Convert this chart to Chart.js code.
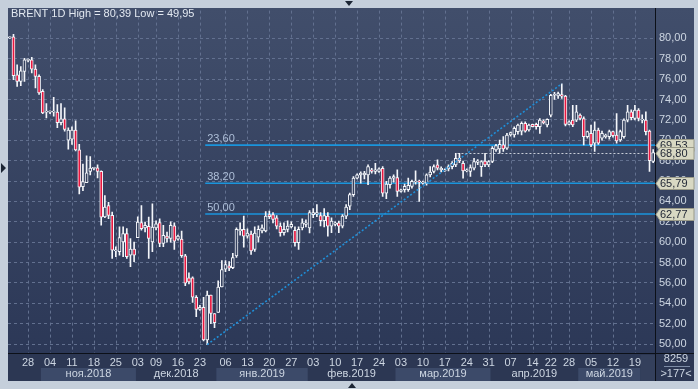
<!DOCTYPE html>
<html>
<head>
<meta charset="utf-8">
<script src="https://cdn.jsdelivr.net/npm/chart.js@4.4.0/dist/chart.umd.min.js"></script>
<style>
  html, body { margin: 0; padding: 0; background: #c5cfdb; }
  canvas { display: block; }
</style>
</head>
<body>
<canvas id="chart" width="698" height="389"></canvas>
<script>
// daily candles, BRENT 1D (177 bars)
const openP = [
  80.05, 80.16, 76.43, 75.78, 76.75, 77.85, 77.89, 76.98, 76.27, 74.81,
  72.76, 72.76, 72.76, 72.76, 71.72, 72.11, 70.0, 70.1, 71.0, 69.06,
  65.45, 65.85, 66.95, 67.25, 67.3, 66.95, 62.47, 63.6, 62.63, 59.15,
  59.06, 60.03, 60.84, 58.73, 59.32, 60.45, 61.92, 61.4, 61.56, 60.03,
  61.4, 61.92, 59.87, 60.6, 60.36, 61.6, 60.3, 60.3, 58.67, 56.5,
  56.5, 54.6, 53.4, 53.6, 50.4, 54.8, 53.0, 53.1, 55.6, 57.36,
  57.69, 57.5, 58.66, 61.1, 61.26, 60.6, 60.8, 59.3, 60.5, 61.1,
  61.1, 62.72, 62.72, 62.4, 61.58, 60.93, 61.26, 61.5, 61.16, 59.96,
  61.4, 61.75, 61.4, 62.7, 62.75, 62.6, 62.1, 62.55, 61.58, 61.74,
  61.9, 61.58, 62.55, 63.53, 64.66, 66.29, 66.61, 66.61, 66.61, 67.1,
  66.94, 66.94, 67.26, 64.82, 65.64, 66.29, 66.35, 64.99, 65.15, 65.15,
  65.47, 65.9, 65.96, 65.8, 65.8, 66.61, 66.94, 67.58, 67.1, 67.0,
  67.19, 67.42, 67.58, 68.23, 67.75, 67.0, 66.94, 67.26, 67.84, 67.42,
  67.97, 67.58, 67.92, 69.06, 69.16, 69.55, 69.22, 70.52, 70.52, 70.85,
  70.9, 71.66, 71.01, 71.56, 71.56, 71.33, 71.88, 71.5, 72.47, 74.42,
  74.35, 74.48, 74.35, 71.56, 71.98, 71.98, 72.47, 72.14, 70.36, 70.68,
  69.71, 71.01, 70.2, 70.36, 70.36, 70.85, 70.52, 70.03, 70.36, 71.98,
  72.79, 72.14, 72.96, 71.98, 71.98, 70.91, 67.92
];
const highP = [
  80.15, 80.39, 77.4, 77.24, 78.05, 78.0, 78.15, 77.4, 76.43, 74.97,
  73.6, 72.9, 74.22, 73.5, 73.6, 73.18, 71.23, 71.33, 71.9, 69.6,
  67.66, 68.47, 68.4, 67.35, 67.6, 67.0, 64.58, 63.9, 62.95, 59.55,
  61.5, 61.5, 61.33, 60.36, 60.0, 62.5, 63.6, 61.98, 62.47, 63.77,
  62.1, 62.3, 61.66, 61.0, 62.0, 61.9, 60.7, 61.1, 58.8, 57.0,
  56.6, 54.77, 53.8, 54.6, 55.2, 54.8, 53.0, 56.2, 58.2, 58.2,
  58.1, 58.9, 61.4, 61.9, 62.56, 61.3, 61.1, 61.5, 61.6, 61.7,
  63.0, 63.05, 62.9, 62.6, 61.9, 61.9, 62.1, 62.0, 61.5, 61.5,
  62.3, 62.2, 63.1, 63.3, 63.7, 62.9, 63.3, 62.9, 62.39, 62.0,
  62.07, 62.7, 63.69, 64.82, 66.45, 66.7, 66.9, 66.95, 67.58, 67.26,
  67.75, 67.3, 67.42, 65.96, 66.45, 66.6, 67.1, 65.2, 65.7, 66.29,
  66.1, 67.0, 66.1, 66.0, 66.7, 67.42, 67.6, 68.07, 67.4, 67.2,
  67.6, 67.9, 68.72, 68.72, 67.97, 67.2, 67.58, 68.23, 68.1, 68.0,
  68.72, 68.0, 69.38, 69.6, 70.03, 70.36, 70.68, 70.8, 71.33, 71.6,
  71.82, 71.8, 71.6, 71.6, 71.7, 72.14, 72.0, 72.1, 74.5, 74.7,
  74.74, 75.55, 74.4, 71.9, 73.44, 73.44, 72.6, 72.3, 70.9, 71.5,
  71.82, 71.2, 70.9, 70.6, 71.0, 70.9, 72.63, 71.0, 72.1, 73.44,
  73.0, 73.44, 73.1, 72.5, 72.79, 71.0, 69.1
];
const lowP = [
  80.0, 75.94, 75.29, 75.36, 75.78, 77.7, 76.6, 75.13, 74.5, 72.6,
  72.2, 72.6, 72.37, 71.23, 71.5, 70.9, 69.12, 69.6, 68.96, 64.74,
  65.06, 65.85, 66.6, 67.1, 66.3, 61.66, 62.4, 62.3, 58.41, 58.57,
  58.73, 58.57, 58.41, 57.6, 58.08, 60.45, 61.17, 61.0, 58.41, 59.06,
  61.2, 59.55, 59.55, 60.0, 60.0, 59.3, 60.2, 58.5, 55.74, 55.9,
  54.1, 52.7, 53.3, 50.3, 49.95, 52.0, 51.6, 53.1, 55.6, 57.1,
  57.2, 57.4, 58.5, 60.7, 59.5, 60.4, 58.8, 59.1, 60.0, 60.9,
  61.0, 62.3, 61.9, 61.3, 60.6, 60.7, 61.0, 61.4, 59.6, 59.3,
  61.2, 61.5, 60.9, 62.4, 62.5, 61.6, 61.5, 60.6, 60.93, 61.6,
  60.93, 61.4, 62.3, 63.2, 64.5, 66.2, 65.8, 66.2, 65.64, 66.77,
  66.7, 66.85, 64.5, 64.27, 65.31, 65.9, 64.5, 64.9, 64.9, 64.99,
  65.3, 65.7, 64.01, 65.7, 65.6, 66.4, 66.8, 67.1, 66.9, 66.95,
  67.0, 67.2, 67.4, 67.8, 66.29, 66.9, 66.45, 67.1, 67.6, 66.45,
  67.4, 67.4, 67.8, 68.9, 68.73, 68.9, 69.1, 70.4, 70.3, 70.6,
  70.52, 70.8, 70.9, 71.3, 71.1, 70.68, 71.6, 71.3, 72.3, 74.0,
  74.1, 74.1, 71.4, 71.5, 71.33, 71.82, 72.0, 69.55, 70.2, 69.38,
  68.9, 69.6, 70.0, 70.2, 70.1, 70.3, 69.71, 69.9, 70.2, 71.8,
  72.0, 72.0, 71.9, 71.7, 70.52, 66.95, 67.8
];
const closeP = [
  80.1, 76.33, 75.78, 76.82, 77.89, 77.9, 76.98, 76.27, 74.64, 72.69,
  72.8, 72.8, 72.85, 71.72, 72.11, 71.07, 71.0, 71.0, 69.06, 65.4,
  65.95, 66.8, 67.27, 67.3, 66.95, 62.45, 63.44, 62.63, 59.22, 59.2,
  60.45, 60.84, 58.57, 59.32, 58.73, 61.98, 61.33, 61.66, 60.36, 61.49,
  61.8, 59.87, 60.68, 60.36, 61.66, 60.1, 60.6, 58.67, 55.97, 56.1,
  54.6, 53.4, 53.6, 50.4, 54.8, 53.0, 52.1, 55.6, 57.3, 57.79,
  57.46, 58.5, 61.26, 61.26, 60.6, 60.9, 59.15, 60.9, 61.26, 61.4,
  62.56, 62.5, 62.23, 61.58, 60.93, 61.26, 61.58, 61.75, 59.96, 61.26,
  61.9, 61.9, 62.9, 62.9, 62.9, 62.1, 62.6, 61.58, 62.07, 61.9,
  61.58, 62.55, 63.45, 64.66, 66.29, 66.61, 66.77, 66.77, 67.42, 66.94,
  67.1, 67.19, 64.82, 65.7, 66.29, 66.45, 64.99, 65.15, 65.47, 65.57,
  65.96, 65.96, 65.9, 65.9, 66.61, 66.87, 67.42, 67.26, 67.26, 67.1,
  67.42, 67.75, 68.23, 67.97, 67.0, 67.1, 67.32, 67.91, 67.97, 67.91,
  67.58, 67.91, 69.22, 69.48, 69.61, 69.16, 70.52, 70.75, 71.17, 71.5,
  71.66, 70.9, 71.5, 71.33, 71.33, 71.98, 71.72, 72.05, 74.42, 74.48,
  74.58, 74.32, 71.56, 71.82, 71.5, 72.79, 72.14, 70.36, 70.85, 69.55,
  71.01, 69.71, 70.68, 70.52, 70.85, 70.46, 69.94, 70.85, 71.98, 72.79,
  72.21, 72.96, 72.14, 72.05, 70.85, 67.99, 68.8
];

// week labels on the time axis (bar index -> text)
const tickIdx = [5, 11, 17, 23, 29, 35, 40, 46, 52, 59, 65, 71, 77, 83, 89, 95, 101, 107, 113, 119, 125, 131, 137, 143, 148, 153, 159, 165, 171];
const tickText = ['28', '04', '11', '18', '25', '03', '09', '16', '23', '06', '13', '20', '27', '03', '10', '17', '24', '03', '10', '17', '24', '31', '07', '14', '22', '28', '05', '12', '19'];
const months = ['ноя.2018', 'дек.2018', 'янв.2019', 'фев.2019', 'мар.2019', 'апр.2019', 'май.2019'];
const monthFirst = [9, 35, 57, 82, 106, 132, 156];
const monthEnd = 172;

const priceTicks = [50, 52, 54, 56, 58, 60, 62, 64, 66, 68, 70, 72, 74, 76, 78, 80];

// fibonacci levels drawn from the low (bar 54) to the high (bar 151)
const fibNames = ['23,60', '38,20', '50,00'];
const fibLevels = [69.53, 65.79, 62.77];
const trendFrom = [54, 49.95];
const trendTo = [151, 75.55];
const lastPrice = 68.80;
const lastLineFrom = 123;
const axisTags = [69.53, 68.80, 65.79, 62.77];

const title = 'BRENT 1D High = 80,39 Low = 49,95';
const barCount = '8259';
const barShown = '>177<';

const FONT = 'Liberation Sans';
const txt = '#cdd6e2';
const gridColor = '#62708f';
const upFill = '#35415f';
const downFill = '#e8173f';
const candleLine = '#f4f6fa';

const labels = openP.map((_, i) => String(i));
const bodies = openP.map((o, i) => [Math.min(o, closeP[i]), Math.max(o, closeP[i])]);
const wicks = lowP.map((l, i) => [l, highP[i]]);
const bodyColors = openP.map((o, i) => closeP[i] >= o ? upFill : downFill);
const trend = labels.map((_, i) => i === trendFrom[0] ? trendFrom[1] : (i === trendTo[0] ? trendTo[1] : null));

const fmt = v => v.toFixed(2).replace('.', ',');

const decor = {
  id: 'decor',
  beforeDraw(chart) {
    const ctx = chart.ctx;
    const a = chart.chartArea;
    const xs = chart.scales.x;
    ctx.save();
    ctx.fillStyle = '#c5cfdb';
    ctx.fillRect(0, 0, chart.width, chart.height);
    const g = ctx.createLinearGradient(0, 8, 0, a.bottom);
    g.addColorStop(0, '#414e6b');
    g.addColorStop(1, '#2c3857');
    ctx.fillStyle = g;
    ctx.fillRect(8, 8, 686, a.bottom - 8);
    ctx.fillStyle = '#2c3753';
    ctx.fillRect(8, a.bottom, 686, 28);
    // month bands
    const half = (xs.getPixelForValue(1) - xs.getPixelForValue(0)) / 2;
    ctx.font = '11px "' + FONT + '"';
    ctx.textAlign = 'center';
    ctx.textBaseline = 'middle';
    months.forEach((m, k) => {
      const x0 = xs.getPixelForValue(monthFirst[k]) - half;
      const last = k + 1 < monthFirst.length ? monthFirst[k + 1] - 1 : monthEnd;
      const x1 = xs.getPixelForValue(last) + half;
      if (k % 2 === 0) {
        ctx.fillStyle = '#3c4a69';
        ctx.fillRect(x0, a.bottom + 15, x1 - x0, 13);
      }
      ctx.fillStyle = txt;
      ctx.fillText(m, (x0 + x1) / 2, a.bottom + 21);
    });
    ctx.fillStyle = '#34405c';
    ctx.fillRect(xs.getPixelForValue(monthEnd) + half, a.bottom + 2, a.right - xs.getPixelForValue(monthEnd) - half, 26);
    ctx.restore();
  },
  beforeDatasetsDraw(chart) {
    const ctx = chart.ctx;
    const a = chart.chartArea;
    const xs = chart.scales.x, ys = chart.scales.y;
    ctx.save();
    // weekly grid lines
    ctx.strokeStyle = gridColor;
    ctx.lineWidth = 1;
    ctx.setLineDash([3, 3]);
    ctx.beginPath();
    tickIdx.forEach(i => {
      const x = Math.round(xs.getPixelForValue(i)) + 0.5;
      ctx.moveTo(x, a.top);
      ctx.lineTo(x, a.bottom);
    });
    ctx.stroke();
    ctx.setLineDash([]);
    const x0 = xs.getPixelForValue(trendFrom[0]) - 2;
    ctx.font = '11px "' + FONT + '"';
    ctx.textBaseline = 'alphabetic';
    ctx.textAlign = 'left';
    fibLevels.forEach((v, k) => {
      const y = ys.getPixelForValue(v);
      ctx.strokeStyle = '#1a95dc';
      ctx.lineWidth = 1.6;
      ctx.beginPath();
      ctx.moveTo(x0, y);
      ctx.lineTo(a.right, y);
      ctx.stroke();
      ctx.fillStyle = '#aebfd8';
      ctx.fillText(fibNames[k], x0 + 2, y - 3);
    });
    const yl = Math.round(ys.getPixelForValue(lastPrice)) + 0.5;
    ctx.strokeStyle = '#c9ced8';
    ctx.lineWidth = 1;
    ctx.setLineDash([2, 2]);
    ctx.beginPath();
    ctx.moveTo(xs.getPixelForValue(lastLineFrom) - 2, yl);
    ctx.lineTo(a.right, yl);
    ctx.stroke();
    ctx.restore();
  },
  afterDraw(chart) {
    const ctx = chart.ctx;
    const a = chart.chartArea;
    const ys = chart.scales.y;
    ctx.save();
    // panel separators
    ctx.strokeStyle = '#0c1018';
    ctx.lineWidth = 1;
    ctx.beginPath();
    ctx.moveTo(a.right + 0.5, 8);
    ctx.lineTo(a.right + 0.5, a.bottom + 28);
    ctx.moveTo(8, a.bottom + 0.5);
    ctx.lineTo(694, a.bottom + 0.5);
    ctx.stroke();
    // price tags on the right axis
    ctx.font = '11px "' + FONT + '"';
    ctx.textAlign = 'left';
    ctx.textBaseline = 'middle';
    axisTags.forEach(v => {
      const y = Math.round(ys.getPixelForValue(v)) + 0.5;
      ctx.beginPath();
      ctx.moveTo(a.right + 1, y);
      ctx.lineTo(a.right + 5, y - 6);
      ctx.lineTo(694, y - 6);
      ctx.lineTo(694, y + 6);
      ctx.lineTo(a.right + 5, y + 6);
      ctx.closePath();
      ctx.fillStyle = '#d8d8c3';
      ctx.fill();
      ctx.strokeStyle = '#9a9a88';
      ctx.stroke();
      ctx.fillStyle = '#1e2433';
      ctx.fillText(fmt(v), a.right + 5, y + 0.5);
    });
    // counters in the lower right corner
    ctx.textAlign = 'center';
    ctx.fillStyle = txt;
    ctx.fillText(barCount, 676, a.bottom + 6);
    ctx.fillText(barShown, 676, a.bottom + 21);
    ctx.strokeStyle = '#7d8ca6';
    ctx.beginPath();
    ctx.moveTo(664, a.bottom + 13.5);
    ctx.lineTo(690, a.bottom + 13.5);
    ctx.stroke();
    // title
    ctx.textAlign = 'left';
    ctx.fillStyle = '#e2e8f0';
    ctx.fillText(title, 11, 14);
    // frame markers
    ctx.fillStyle = '#1c2534';
    ctx.beginPath();
    ctx.moveTo(345, 1); ctx.lineTo(353, 1); ctx.lineTo(349, 6); ctx.closePath();
    ctx.moveTo(1, 163); ctx.lineTo(1, 173); ctx.lineTo(6, 168); ctx.closePath();
    ctx.moveTo(348, 388); ctx.lineTo(356, 388); ctx.lineTo(352, 383); ctx.closePath();
    ctx.fill();
    ctx.restore();
  }
};

new Chart(document.getElementById('chart'), {
  data: {
    labels: labels,
    datasets: [
      {
        type: 'line', label: 'trend', data: trend, spanGaps: true,
        borderColor: '#1f8fd8', borderWidth: 1.6, borderDash: [2, 2],
        pointRadius: 0, order: 1
      },
      {
        type: 'bar', label: 'body', data: bodies, backgroundColor: bodyColors,
        borderColor: candleLine, borderWidth: 1, borderSkipped: false,
        barThickness: 3, minBarLength: 1, grouped: false, order: 2
      },
      {
        type: 'bar', label: 'wick', data: wicks, backgroundColor: candleLine,
        barThickness: 1, grouped: false, order: 3
      }
    ]
  },
  options: {
    responsive: false,
    animation: false,
    devicePixelRatio: 1,
    events: [],
    layout: { padding: { left: 8, top: 8, right: 4, bottom: 8 } },
    plugins: { legend: { display: false }, tooltip: { enabled: false } },
    scales: {
      x: {
        type: 'category',
        offset: true,
        grid: { display: false, drawTicks: false },
        border: { display: false },
        ticks: {
          autoSkip: false, maxRotation: 0, minRotation: 0, padding: 3,
          color: txt, font: { family: FONT, size: 11 },
          callback: (v, i) => { const k = tickIdx.indexOf(i); return k >= 0 ? tickText[k] : ''; }
        },
        afterFit: s => { s.height = 28; }
      },
      y: {
        position: 'right',
        min: 49.125,
        max: 82.727,
        afterBuildTicks: s => { s.ticks = priceTicks.map(v => ({ value: v })); },
        grid: { color: gridColor, drawTicks: false },
        border: { display: false, dash: [3, 3] },
        ticks: { padding: 4, color: txt, font: { family: FONT, size: 11 }, callback: v => fmt(v) },
        afterFit: s => { s.width = 39; }
      }
    }
  },
  plugins: [decor]
});
</script>
</body>
</html>
